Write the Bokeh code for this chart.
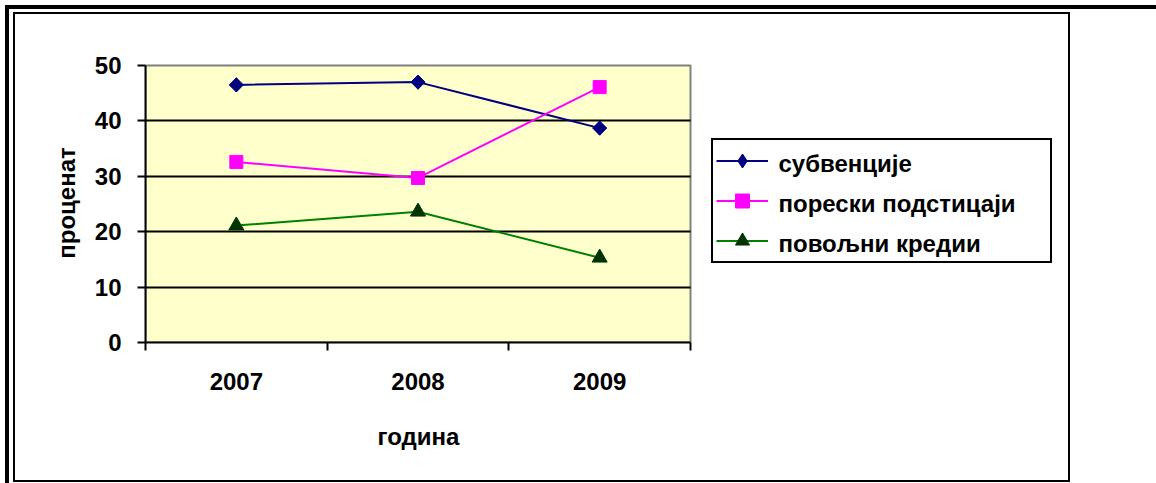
from bokeh.plotting import figure
from bokeh.layouts import column
from bokeh.models import Range1d, FixedTicker, Legend, LegendItem, BoxAnnotation, Title
from bokeh.core.properties import value
from bokeh.embed import file_html
from bokeh.resources import INLINE

years = ["2007", "2008", "2009"]
subvencije = [46.5, 47.0, 38.7]
poreski = [32.6, 29.7, 46.1]
povoljni = [21.1, 23.6, 15.3]
series_names = ["субвенције", "порески подстицаји", "повољни кредии"]
y_ticks = [0, 10, 20, 30, 40, 50]

FONT = "Liberation Sans"
W, H = 1057, 470                 # figure box (canvas) size
B_LEFT, B_TOP, B_BOTTOM, B_RIGHT = 130, 49, 142, 10
PLOT_PX_W, PLOT_PX_H = 545, 277  # yellow plot area in px
FRAME_W = W - B_LEFT - B_RIGHT
FRAME_H = H - B_TOP - B_BOTTOM
y_max = y_ticks[-1]

x = [i + 1 for i in range(len(years))]
x_lo, x_hi = 0.5, len(years) + 0.5
PX_X = PLOT_PX_W / (x_hi - x_lo)   # px per x unit
PX_Y = PLOT_PX_H / y_max           # px per y unit

p = figure(width=W, height=H, output_backend="svg", toolbar_location=None,
           x_range=Range1d(x_lo, x_lo + FRAME_W / PX_X),
           y_range=Range1d(0, FRAME_H / PX_Y),
           min_border_left=B_LEFT, min_border_right=B_RIGHT,
           min_border_top=B_TOP, min_border_bottom=B_BOTTOM)
p.background_fill_color = "white"
p.border_fill_color = "white"
p.outline_line_color = None

# yellow plot area with grey top/right edges
p.add_layout(BoxAnnotation(left=x_lo, right=x_hi, bottom=0, top=y_max,
                           fill_color="#FFFFCC", fill_alpha=1,
                           line_color="#808080", line_width=2, line_alpha=1,
                           level="image"))

# axes
p.xaxis.bounds = (x_lo, x_hi)
p.xaxis.ticker = FixedTicker(ticks=x, minor_ticks=[v - 0.5 for v in x] + [x_hi])
p.xaxis.major_label_overrides = {v: years[i] for i, v in enumerate(x)}
p.xaxis.major_tick_out = 0
p.xaxis.major_tick_in = 0
p.xaxis.minor_tick_out = 8
p.xaxis.minor_tick_in = 0
p.xaxis.minor_tick_line_width = 2
p.xaxis.minor_tick_line_color = "black"
p.xaxis.major_label_standoff = 22

p.yaxis.bounds = (0, y_max)
p.yaxis.ticker = FixedTicker(ticks=y_ticks, minor_ticks=[])
p.yaxis.major_tick_out = 8
p.yaxis.major_tick_in = 0
p.yaxis.major_label_standoff = 16
p.yaxis.axis_label = "проценат"
p.yaxis.axis_label_standoff = 12

for ax in (p.xaxis, p.yaxis):
    ax.axis_line_color = "black"
    ax.axis_line_width = 2
    ax.major_tick_line_color = "black"
    ax.major_tick_line_width = 2
    ax.major_label_text_font = FONT
    ax.major_label_text_font_style = "bold"
    ax.major_label_text_font_size = "24px"
    ax.major_label_text_color = "black"
    ax.axis_label_text_font = FONT
    ax.axis_label_text_font_style = "bold"
    ax.axis_label_text_font_size = "24px"
    ax.axis_label_text_color = "black"

# x-axis title, centred under the plot area (not the whole frame)
p.add_layout(Title(text="година", align="left", offset=232, standoff=57,
                   text_font=FONT, text_font_style="bold", text_font_size="24px",
                   text_color="black"), "below")

p.xgrid.visible = False
p.ygrid.ticker = FixedTicker(ticks=y_ticks[1:-1])
p.ygrid.cross_bounds = (x_lo, x_hi)
p.ygrid.grid_line_color = "black"
p.ygrid.grid_line_width = 2

# series
l1 = p.line(x, subvencije, line_color="#000080", line_width=2)
d1 = p.scatter(x, subvencije, marker="diamond", size=14,
               fill_color="#000080", line_color="#000080")
s1 = p.scatter(x, subvencije, marker="square", angle=0.785398, size=10,
               fill_color="#000080", line_color="#000080")
l2 = p.line(x, poreski, line_color="#FF00FF", line_width=2)
s2 = p.scatter(x, poreski, marker="square", size=13,
               fill_color="#FF00FF", line_color="#FF00FF")
l3 = p.line(x, povoljni, line_color="#008000", line_width=2)
s3 = p.scatter(x, povoljni, marker="triangle", size=15,
               fill_color="#003300", line_color="#003300")

# legend box and glyphs (bold labels drawn as a text glyph below)
LEG_X, LEG_Y = 566, 79
PAD, GLYPH_W, GLYPH_H, SPACING, STANDOFF, LABEL_W = 3, 52, 35, 5, 12, 267
legend = Legend(items=[
    LegendItem(label=" ", renderers=[l1, d1]),
    LegendItem(label=" ", renderers=[l2, s2]),
    LegendItem(label=" ", renderers=[l3, s3]),
], location=(LEG_X, LEG_Y))
legend.label_text_font = FONT
legend.label_text_font_size = "24px"
legend.border_line_color = "black"
legend.border_line_width = 2
legend.border_line_alpha = 1
legend.background_fill_alpha = 0
legend.padding = PAD
legend.spacing = SPACING
legend.margin = 0
legend.glyph_width = GLYPH_W
legend.glyph_height = GLYPH_H
legend.label_height = 24
legend.label_width = LABEL_W
legend.label_standoff = STANDOFF
p.add_layout(legend)

n = len(series_names)
leg_h = 2 * PAD + n * GLYPH_H + (n - 1) * SPACING
lab_x = [x_lo + (LEG_X + PAD + GLYPH_W + STANDOFF) / PX_X] * n
lab_y = [(LEG_Y + leg_h - PAD - GLYPH_H / 2 - i * (GLYPH_H + SPACING)) / PX_Y
         for i in range(n)]
p.text(x=lab_x, y=lab_y, text=series_names,
       text_font=value(FONT), text_font_style="bold", text_font_size="24px",
       text_color="black", text_align="left", text_baseline="middle")

# chart frame: thin box round the figure, thick top/left rule round that
p.margin = (3, 0, 0, 4)
p.styles = {"border": "2px solid black"}
lay = column(p, width=1151, height=478, margin=(5, 0, 0, 5),
             styles={"border-top": "4px solid black",
                     "border-left": "4px solid black"})

open("out.html", "w").write(file_html(lay, INLINE))
